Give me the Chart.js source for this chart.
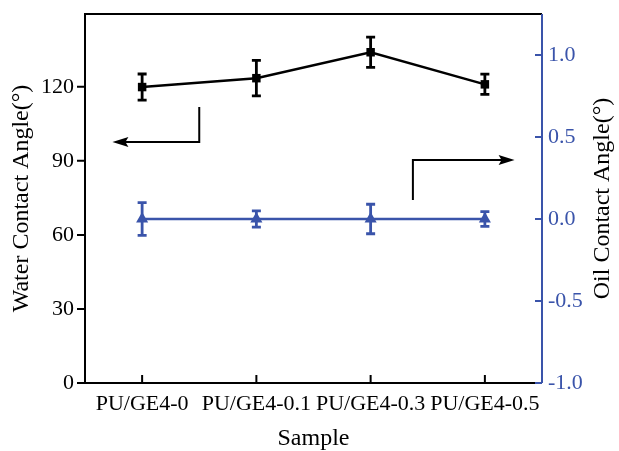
<!DOCTYPE html>
<html>
<head>
<meta charset="utf-8">
<script src="https://cdn.jsdelivr.net/npm/chart.js@4"></script>
<style>
  html, body { margin: 0; padding: 0; background: #fff; }
  #wrap { width: 619px; height: 451px; }
</style>
</head>
<body>
<div id="wrap"><canvas id="chart" width="619" height="451"></canvas></div>
<script>
// data
const samples = ["PU/GE4-0", "PU/GE4-0.1", "PU/GE4-0.3", "PU/GE4-0.5"];
const water = [119.9, 123.5, 134.0, 121.0];
const waterErr = [5.3, 7.2, 6.1, 4.1];
const oil = [0, 0, 0, 0];
const oilErr = [0.1, 0.05, 0.09, 0.045];
const leftTicks = [0, 30, 60, 90, 120];
const rightTicks = [-1.0, -0.5, 0.0, 0.5, 1.0];

const blue = 'rgb(58, 84, 170)';
const serif = "'Liberation Serif', 'Times New Roman', serif";

// arrows pointing at the axis each curve belongs to (x = category index, y = axis value)
const arrows = [
    {axis: 'y', pts: [[0.5, 111.8], [0.5, 97.6], [-0.26, 97.6]]},
    {axis: 'y1', pts: [[2.37, 0.116], [2.37, 0.36], [3.26, 0.36]]}
];

const errorBars = {
    id: 'errorBars',
    beforeDatasetsDraw(chart) {
        const ctx = chart.ctx;
        const x = chart.scales.x;
        chart.data.datasets.forEach(ds => {
            const y = chart.scales[ds.yAxisID];
            ctx.save();
            ctx.strokeStyle = ds.borderColor;
            ctx.lineWidth = 2.8;
            ds.data.forEach((v, i) => {
                const px = x.getPixelForValue(i);
                const top = y.getPixelForValue(v + ds.errors[i]);
                const bot = y.getPixelForValue(v - ds.errors[i]);
                ctx.beginPath();
                ctx.moveTo(px, top); ctx.lineTo(px, bot);
                ctx.moveTo(px - 4.5, top); ctx.lineTo(px + 4.5, top);
                ctx.moveTo(px - 4.5, bot); ctx.lineTo(px + 4.5, bot);
                ctx.stroke();
            });
            ctx.restore();
        });
    }
};

const frame = {
    id: 'frame',
    afterDraw(chart) {
        const ctx = chart.ctx;
        const a = chart.chartArea;
        const x = chart.scales.x, y = chart.scales.y, y1 = chart.scales.y1;
        ctx.save();
        ctx.lineWidth = 2;
        // box
        ctx.strokeStyle = '#000';
        ctx.beginPath();
        ctx.moveTo(a.right, a.top); ctx.lineTo(a.left, a.top);
        ctx.lineTo(a.left, a.bottom); ctx.lineTo(a.right, a.bottom);
        ctx.stroke();
        ctx.strokeStyle = blue;
        ctx.beginPath();
        ctx.moveTo(a.right, a.top); ctx.lineTo(a.right, a.bottom);
        ctx.stroke();
        // ticks
        ctx.strokeStyle = '#000';
        ctx.beginPath();
        leftTicks.forEach(v => {
            const py = y.getPixelForValue(v);
            ctx.moveTo(a.left - 8, py); ctx.lineTo(a.left, py);
        });
        samples.forEach((s, i) => {
            const px = x.getPixelForValue(i);
            ctx.moveTo(px, a.bottom); ctx.lineTo(px, a.bottom - 8);
        });
        ctx.stroke();
        ctx.strokeStyle = blue;
        ctx.beginPath();
        rightTicks.forEach(v => {
            const py = y1.getPixelForValue(v);
            ctx.moveTo(a.right - 7, py); ctx.lineTo(a.right, py);
        });
        ctx.stroke();
        // arrows
        ctx.strokeStyle = '#000';
        ctx.fillStyle = '#000';
        arrows.forEach(ar => {
            const sy = chart.scales[ar.axis];
            const p = ar.pts.map(q => [x.getPixelForValue(q[0]), sy.getPixelForValue(q[1])]);
            const tip = p[p.length - 1], prev = p[p.length - 2];
            const dir = Math.sign(tip[0] - prev[0]);
            ctx.beginPath();
            ctx.moveTo(p[0][0], p[0][1]);
            for (let i = 1; i < p.length - 1; i++) ctx.lineTo(p[i][0], p[i][1]);
            ctx.lineTo(tip[0] - dir * 12, tip[1]);
            ctx.stroke();
            ctx.beginPath();
            ctx.moveTo(tip[0], tip[1]);
            ctx.lineTo(tip[0] - dir * 16, tip[1] - 5);
            ctx.lineTo(tip[0] - dir * 13, tip[1]);
            ctx.lineTo(tip[0] - dir * 16, tip[1] + 5);
            ctx.closePath();
            ctx.fill();
        });
        // right axis title, read bottom to top like the left one
        ctx.translate(chart.width - 16, (a.top + a.bottom) / 2);
        ctx.rotate(-Math.PI / 2);
        ctx.font = '24px ' + serif;
        ctx.fillStyle = '#000';
        ctx.textAlign = 'center';
        ctx.textBaseline = 'middle';
        ctx.fillText('Oil Contact Angle(°)', 0, 0);
        ctx.restore();
    }
};

let ctx = document.getElementById('chart').getContext('2d');

new Chart(ctx, {
    type: 'line',

    data: {
        labels: samples,
        datasets: [{
            label: 'Water',
            data: water,
            errors: waterErr,
            yAxisID: 'y',
            borderColor: '#000',
            backgroundColor: '#000',
            borderWidth: 2.5,
            pointStyle: 'rect',
            pointRadius: 6,
            pointBorderWidth: 0,
        }, {
            label: 'Oil',
            data: oil,
            errors: oilErr,
            yAxisID: 'y1',
            borderColor: blue,
            backgroundColor: blue,
            borderWidth: 2.5,
            pointStyle: 'triangle',
            pointRadius: 7,
            pointBorderWidth: 0,
        }]
    },

    options: {
        responsive: false,
        animation: false,
        layout: {padding: {top: 14, left: 0, right: 0, bottom: 0}},
        plugins: {legend: {display: false}, tooltip: {enabled: false}},
        scales: {
            x: {
                offset: true,
                grid: {display: false, drawTicks: false},
                border: {display: false},
                ticks: {color: '#000', padding: 8, maxRotation: 0, autoSkip: false,
                        font: {family: serif, size: 22}},
                title: {display: true, text: 'Sample', color: '#000', padding: 0,
                        font: {family: serif, size: 24, lineHeight: 1}},
                afterFit(s) { s.height = 68; s.paddingLeft = 0; s.paddingRight = 0; }
            },
            y: {
                position: 'left',
                min: 0, max: 149.5,
                grid: {display: false, drawTicks: false},
                border: {display: false},
                afterBuildTicks(s) { s.ticks = leftTicks.map(v => ({value: v})); },
                ticks: {color: '#000', padding: 11, font: {family: serif, size: 22}},
                title: {display: true, text: 'Water Contact Angle(°)', color: '#000',
                        padding: {top: 10}, font: {family: serif, size: 24, lineHeight: 1}},
                afterFit(s) { s.width = 85; s.paddingTop = 0; s.paddingBottom = 0; }
            },
            y1: {
                position: 'right',
                min: -1.0, max: 1.25,
                grid: {display: false, drawTicks: false},
                border: {display: false},
                afterBuildTicks(s) { s.ticks = rightTicks.map(v => ({value: v})); },
                ticks: {color: blue, padding: 6, font: {family: serif, size: 22},
                        callback: v => v.toFixed(1)},
                title: {display: false},
                afterFit(s) { s.width = 77; s.paddingTop = 0; s.paddingBottom = 0; }
            }
        }
    },

    plugins: [errorBars, frame]
});
</script>
</body>
</html>
